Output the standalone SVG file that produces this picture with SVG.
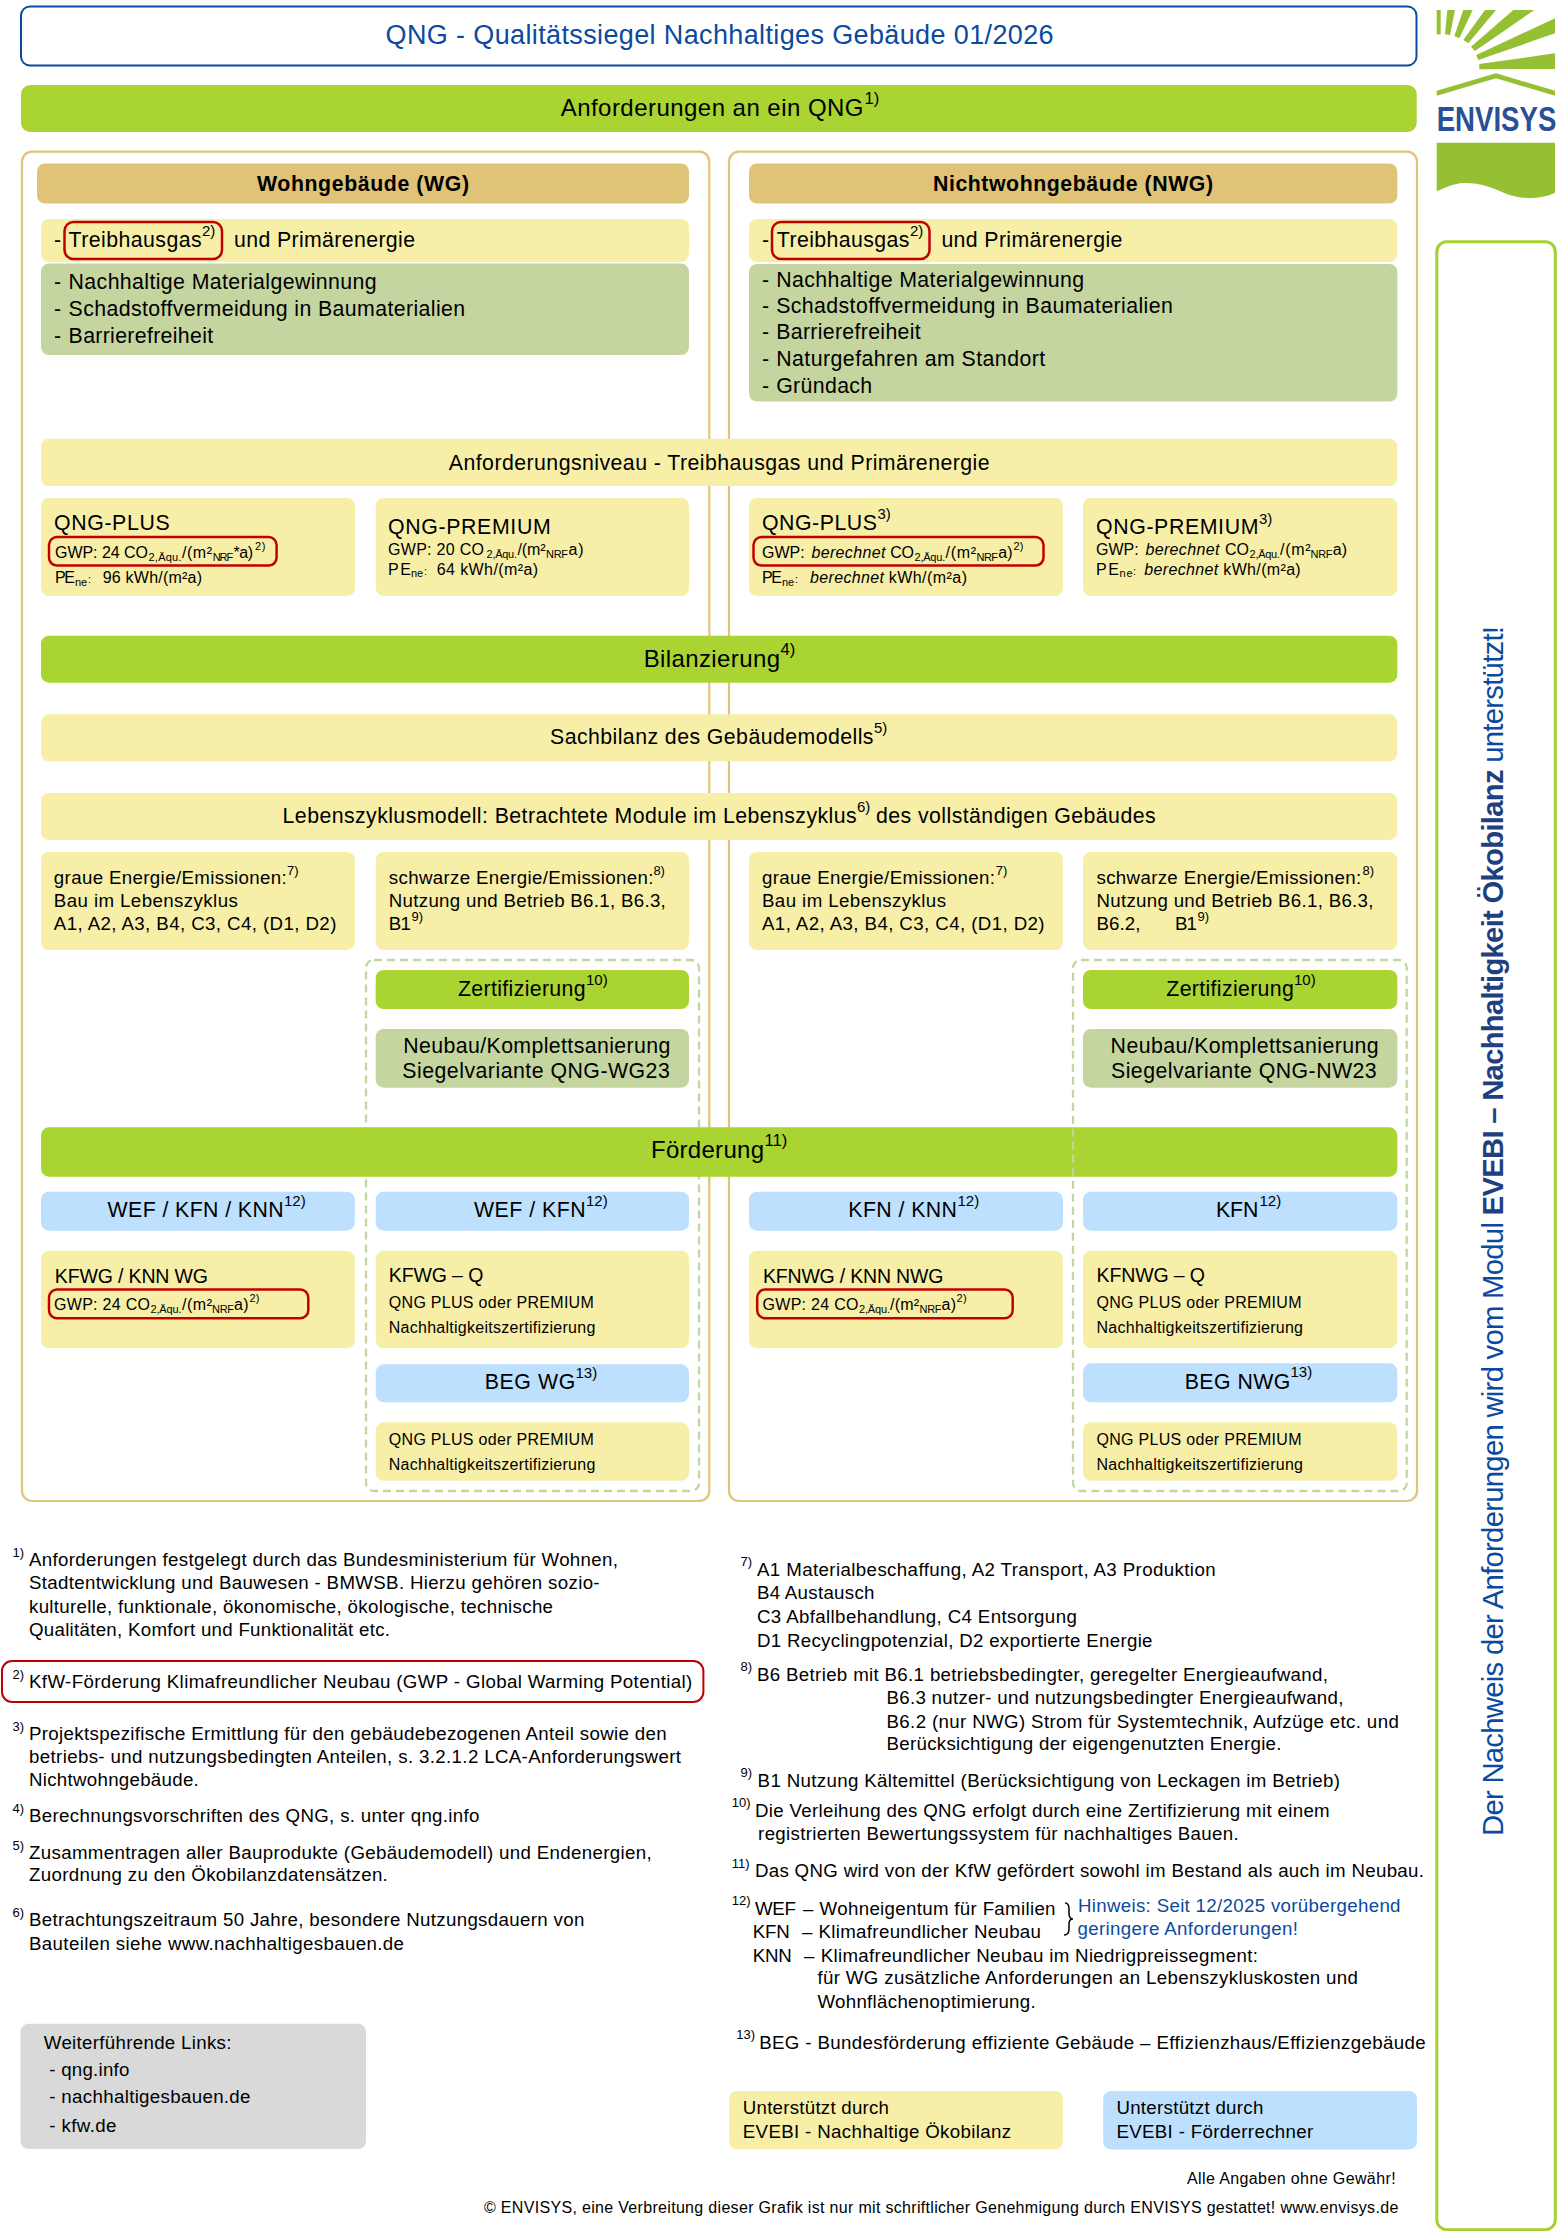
<svg xmlns="http://www.w3.org/2000/svg" width="1560" height="2231" viewBox="0 0 1560 2231">
<style>
text{font-family:"Liberation Sans",Arial,sans-serif;fill:#000}
.f27{font-size:27px}.f24{font-size:24px}.f21{font-size:21.3px}.f195{font-size:19.5px}.f19{font-size:18.7px}.f16{font-size:16px}
.b{font-weight:700}.i{font-style:italic}
.sb{font-size:16.6px}.su{font-size:15px}.sm{font-size:13px}.xs{font-size:11px}
.blue{fill:#0b4a9e}
.yel{fill:#f7efa8}.grn{fill:#a9d431}.tan{fill:#dfc377}.sag{fill:#c4d59f}.sky{fill:#bde0fe}.gry{fill:#d9d9d9}
.panel{fill:#fff;stroke:#e0c47c;stroke-width:2.2}
.red{fill:none;stroke:#c00000;stroke-width:2.5}
.dash{fill:none;stroke:#c4d59f;stroke-width:2.3;stroke-dasharray:8 5}
.lg{fill:#95c034}
</style>

<g id="logo">
<polygon class="lg" points="1436.7,10 1440.7,10 1440.7,34.3 1436.7,34.3"/>
<polygon class="lg" points="1447.3,10 1455,10 1450,35 1445,34.3"/>
<polygon class="lg" points="1463.3,10 1472.7,10 1459.3,38.3 1454.3,36"/>
<polygon class="lg" points="1485,10 1496,10 1468.3,43.3 1463.3,40"/>
<polygon class="lg" points="1513.3,10 1534.3,10 1475,51 1471,46.7"/>
<polygon class="lg" points="1555,18.3 1555,33.3 1478.3,60 1476.3,55"/>
<polygon class="lg" points="1555,53.3 1555,69 1479.3,69.3 1479.3,64"/>
<polygon class="lg" points="1436.7,90.7 1496,73.3 1555,90.7 1555,95.7 1496,78.3 1436.7,95.7"/>
<text transform="translate(1436.7 130.7) scale(0.8 1)" class="b" font-size="34.5" style="fill:#2a4f96">ENVISYS</text>
<path class="lg" d="M1436.7 142.7H1555V192.7C1540 199.7 1523 199.7 1506.7 194C1490 186.7 1476.7 181.7 1460 183.3C1450 185 1443.3 188.7 1436.7 191.3Z"/>
</g>

<g id="side-note">
<rect x="1436.8" y="241.7" width="118.5" height="1988" rx="10" fill="none" stroke="#a6d02f" stroke-width="3"/>
<text transform="translate(1502.5 1836) rotate(-90)" font-size="29.3" class="blue" textLength="1210"><tspan class="blue">Der Nachweis der Anforderungen wird vom Modul </tspan><tspan class="b" style="fill:#1f3f80">EVEBI – Nachhaltigkeit Ökobilanz</tspan><tspan class="blue"> unterstützt!</tspan></text>
</g>

<g id="title">
<rect x="21" y="6.5" width="1395.5" height="59" rx="9" fill="#fff" stroke="#0b4a9e" stroke-width="2"/>
<text x="385.6" y="43.5" class="f27 blue" textLength="668">QNG - Qualitätssiegel Nachhaltiges Gebäude 01/2026</text>
</g>

<g id="anforderungen-bar">
<rect x="21" y="85" width="1395.7" height="47" rx="9" class="grn"/>
<text x="560.7" y="116" class="f24" textLength="302.8">Anforderungen an ein QNG</text>
<text x="864.5" y="104" class="sb">1)</text>
</g>

<g id="panel-wg"><rect x="22" y="151.7" width="687.3" height="1349.3" rx="10" class="panel"/></g>
<g id="panel-nwg"><rect x="729" y="151.7" width="688" height="1349.3" rx="10" class="panel"/></g>

<g id="head-wg">
<rect x="37" y="163.5" width="652" height="40" rx="8" class="tan"/>
<text x="257" y="191" class="f21 b" textLength="212">Wohngebäude (WG)</text>
</g>
<g id="head-nwg">
<rect x="749" y="163.5" width="648.3" height="40" rx="8" class="tan"/>
<text x="933" y="191" class="f21 b" textLength="280">Nichtwohngebäude (NWG)</text>
</g>

<g id="thg-wg">
<rect x="41" y="219" width="648" height="43" rx="8" class="yel"/>
<text x="54" y="247" class="f21">-</text>
<rect x="64.5" y="222" width="157.5" height="37" rx="9" class="red"/>
<text x="68.6" y="247" class="f21" textLength="133">Treibhausgas</text>
<text x="202" y="236" class="su">2)</text>
<text x="234" y="247" class="f21" textLength="181">und Primärenergie</text>
</g>
<g id="thg-nwg">
<rect x="749" y="219" width="648.3" height="43" rx="8" class="yel"/>
<text x="762" y="247" class="f21">-</text>
<rect x="772" y="222" width="157.5" height="37" rx="9" class="red"/>
<text x="776.8" y="247" class="f21" textLength="132.7">Treibhausgas</text>
<text x="910" y="236" class="su">2)</text>
<text x="941.4" y="247" class="f21" textLength="181">und Primärenergie</text>
</g>

<g id="list-wg">
<rect x="41" y="263.6" width="648" height="91.4" rx="8" class="sag"/>
<text x="54" y="288.5" class="f21">-</text><text x="68.6" y="288.5" class="f21" textLength="308">Nachhaltige Materialgewinnung</text>
<text x="54" y="315.5" class="f21">-</text><text x="68.6" y="315.5" class="f21" textLength="396.6">Schadstoffvermeidung in Baumaterialien</text>
<text x="54" y="342.5" class="f21">-</text><text x="68.6" y="342.5" class="f21" textLength="144.5">Barrierefreiheit</text>
</g>
<g id="list-nwg">
<rect x="749" y="264" width="648.3" height="137.6" rx="8" class="sag"/>
<text x="762" y="286.5" class="f21">-</text><text x="776.2" y="286.5" class="f21" textLength="308">Nachhaltige Materialgewinnung</text>
<text x="762" y="313.4" class="f21">-</text><text x="776.2" y="313.4" class="f21" textLength="396.6">Schadstoffvermeidung in Baumaterialien</text>
<text x="762" y="339" class="f21">-</text><text x="776.2" y="339" class="f21" textLength="144.5">Barrierefreiheit</text>
<text x="762" y="366.4" class="f21">-</text><text x="776.2" y="366.4" class="f21" textLength="269">Naturgefahren am Standort</text>
<text x="762" y="393" class="f21">-</text><text x="776.2" y="393" class="f21" textLength="96">Gründach</text>
</g>

<g id="niveau">
<rect x="41" y="438.7" width="1356.3" height="47.3" rx="8" class="yel"/>
<text x="448.8" y="469.6" class="f21" textLength="540.8">Anforderungsniveau - Treibhausgas und Primärenergie</text>
</g>

<g id="plus-wg">
<rect x="41" y="498" width="314" height="98" rx="8" class="yel"/>
<text x="54" y="530.4" class="f21" textLength="115.6">QNG-PLUS</text>
<rect x="49" y="537" width="227.6" height="28.6" rx="8" class="red"/>
<text x="55" y="558.3" class="f16" textLength="93">GWP: 24 CO</text>
<text x="148.5" y="561" class="xs" textLength="33">2,Äqu.</text>
<text x="182" y="558.3" class="f16" textLength="30">/(m²</text>
<text x="212.7" y="561" class="xs" textLength="20.5">NRF</text>
<text x="233.5" y="558.3" class="f16" textLength="19.5">*a)</text>
<text x="255" y="550" class="xs" textLength="10.5">2)</text>
<text x="55" y="583.3" class="f16" textLength="20">PE</text>
<text x="75" y="585.5" class="xs" textLength="12">ne</text>
<text x="88" y="583.3" class="xs">:</text>
<text x="102.7" y="583.3" class="f16" textLength="99.3">96 kWh/(m²a)</text>
</g>
<g id="premium-wg">
<rect x="375.7" y="498" width="313.3" height="98" rx="8" class="yel"/>
<text x="388" y="534.4" class="f21" textLength="162.7">QNG-PREMIUM</text>
<text x="388" y="555.3" class="f16" textLength="96">GWP: 20 CO</text>
<text x="486.6" y="558" class="xs" textLength="30.4">2,Äqu.</text>
<text x="517.5" y="555.3" class="f16" textLength="28">/(m²</text>
<text x="546" y="558" class="xs" textLength="22">NRF</text>
<text x="568.5" y="555.3" class="f16" textLength="15">a)</text>
<text x="388" y="575" class="f16" textLength="23">PE</text>
<text x="411" y="577.2" class="xs" textLength="12">ne</text>
<text x="424" y="575" class="xs">:</text>
<text x="436.8" y="575" class="f16" textLength="101.2">64 kWh/(m²a)</text>
</g>
<g id="plus-nwg">
<rect x="749" y="498" width="314" height="98" rx="8" class="yel"/>
<text x="762" y="529.6" class="f21" textLength="115">QNG-PLUS</text>
<text x="877.5" y="519" class="su">3)</text>
<rect x="753.5" y="537" width="290" height="28.6" rx="8" class="red"/>
<text x="762" y="558.3" class="f16">GWP:</text>
<text x="811.4" y="558.3" class="f16 i" textLength="74">berechnet</text>
<text x="890.3" y="558.3" class="f16" textLength="23.7">CO</text>
<text x="914.5" y="561" class="xs" textLength="30.7">2,Äqu.</text>
<text x="945.5" y="558.3" class="f16" textLength="30.5">/(m²</text>
<text x="976.5" y="561" class="xs" textLength="21.5">NRF</text>
<text x="998.3" y="558.3" class="f16" textLength="14.4">a)</text>
<text x="1013.5" y="550" class="xs" textLength="10">2)</text>
<text x="762" y="583.3" class="f16" textLength="20">PE</text>
<text x="782" y="585.5" class="xs" textLength="12">ne</text>
<text x="795" y="583.3" class="xs">:</text>
<text x="810" y="583.3" class="f16 i" textLength="74">berechnet</text>
<text x="888.7" y="583.3" class="f16" textLength="78.3">kWh/(m²a)</text>
</g>
<g id="premium-nwg">
<rect x="1083" y="498" width="314.3" height="98" rx="8" class="yel"/>
<text x="1096" y="534.4" class="f21" textLength="162.4">QNG-PREMIUM</text>
<text x="1259" y="523.5" class="su">3)</text>
<text x="1096" y="555.3" class="f16">GWP:</text>
<text x="1145.4" y="555.3" class="f16 i" textLength="74">berechnet</text>
<text x="1225" y="555.3" class="f16" textLength="24">CO</text>
<text x="1249.6" y="558" class="xs" textLength="30.2">2,Äqu.</text>
<text x="1280" y="555.3" class="f16" textLength="30.5">/(m²</text>
<text x="1310.5" y="558" class="xs" textLength="22">NRF</text>
<text x="1332.8" y="555.3" class="f16" textLength="14.4">a)</text>
<text x="1096" y="575" class="f16" textLength="23">PE</text>
<text x="1119.6" y="577.2" class="xs" textLength="13">ne</text>
<text x="1133" y="575" class="xs">:</text>
<text x="1144.3" y="575" class="f16 i" textLength="74">berechnet</text>
<text x="1223.3" y="575" class="f16" textLength="77.4">kWh/(m²a)</text>
</g>

<g id="bilanzierung">
<rect x="41" y="635.7" width="1356.3" height="47" rx="8" class="grn"/>
<text x="643.7" y="666.7" class="f24" textLength="136.3">Bilanzierung</text>
<text x="780.5" y="654.5" class="sb">4)</text>
</g>
<g id="sachbilanz">
<rect x="41" y="714.3" width="1356.3" height="47" rx="8" class="yel"/>
<text x="550" y="744.3" class="f21" textLength="323.5">Sachbilanz des Gebäudemodells</text>
<text x="874" y="732.5" class="su">5)</text>
</g>
<g id="lebenszyklus">
<rect x="41" y="793" width="1356.3" height="47" rx="8" class="yel"/>
<text x="282.6" y="822.7" class="f21" textLength="574">Lebenszyklusmodell: Betrachtete Module im Lebenszyklus</text>
<text x="857" y="812" class="su">6)</text>
<text x="876" y="822.7" class="f21" textLength="279.6">des vollständigen Gebäudes</text>
</g>

<g id="graue-wg">
<rect x="41" y="852" width="313.8" height="98" rx="8" class="yel"/>
<text x="53.8" y="884" class="f19" textLength="233">graue Energie/Emissionen:</text>
<text x="287" y="875" class="sm">7)</text>
<text x="53.8" y="907.3" class="f19" textLength="184">Bau im Lebenszyklus</text>
<text x="53.8" y="930" class="f19" textLength="282.6">A1, A2, A3, B4, C3, C4, (D1, D2)</text>
</g>
<g id="schwarz-wg">
<rect x="375.7" y="852" width="313.3" height="98" rx="8" class="yel"/>
<text x="388.8" y="884" class="f19" textLength="264.6">schwarze Energie/Emissionen:</text>
<text x="653.4" y="875" class="sm">8)</text>
<text x="388.8" y="907.3" class="f19" textLength="277">Nutzung und Betrieb B6.1, B6.3,</text>
<text x="388.8" y="930" class="f19" textLength="22">B1</text>
<text x="411.5" y="921" class="sm">9)</text>
</g>
<g id="graue-nwg">
<rect x="749" y="852" width="314" height="98" rx="8" class="yel"/>
<text x="762" y="884" class="f19" textLength="233">graue Energie/Emissionen:</text>
<text x="995.7" y="875" class="sm">7)</text>
<text x="762" y="907.3" class="f19" textLength="184">Bau im Lebenszyklus</text>
<text x="762" y="930" class="f19" textLength="282.6">A1, A2, A3, B4, C3, C4, (D1, D2)</text>
</g>
<g id="schwarz-nwg">
<rect x="1083" y="852" width="314.3" height="98" rx="8" class="yel"/>
<text x="1096.5" y="884" class="f19" textLength="264.6">schwarze Energie/Emissionen:</text>
<text x="1362.6" y="875" class="sm">8)</text>
<text x="1096.5" y="907.3" class="f19" textLength="277">Nutzung und Betrieb B6.1, B6.3,</text>
<text x="1096.5" y="930" class="f19" textLength="44">B6.2,</text>
<text x="1175" y="930" class="f19" textLength="22">B1</text>
<text x="1197.5" y="921" class="sm">9)</text>
</g>

<g id="zert-frame-wg"><rect x="366" y="960" width="333" height="531" rx="8" class="dash"/></g>

<g id="zert-wg">
<rect x="375.7" y="970" width="313.3" height="39" rx="8" class="grn"/>
<text x="458" y="995.7" class="f21" textLength="127.6">Zertifizierung</text>
<text x="586" y="984.5" class="su">10)</text>
</g>
<g id="siegel-wg">
<rect x="375.7" y="1029" width="313.3" height="58.7" rx="8" class="sag"/>
<text x="403.3" y="1052.7" class="f21" textLength="267">Neubau/Komplettsanierung</text>
<text x="402.3" y="1077.7" class="f21" textLength="267.5">Siegelvariante QNG-WG23</text>
</g>
<g id="zert-nwg">
<rect x="1083" y="970" width="314.3" height="39" rx="8" class="grn"/>
<text x="1166.3" y="995.7" class="f21" textLength="127.5">Zertifizierung</text>
<text x="1294" y="984.5" class="su">10)</text>
</g>
<g id="siegel-nwg">
<rect x="1083" y="1029" width="314.3" height="58.7" rx="8" class="sag"/>
<text x="1110.6" y="1052.7" class="f21" textLength="268">Neubau/Komplettsanierung</text>
<text x="1111" y="1077.7" class="f21" textLength="265.7">Siegelvariante QNG-NW23</text>
</g>

<g id="foerderung">
<rect x="41" y="1127.3" width="1356.3" height="49.4" rx="8" class="grn"/>
<text x="651" y="1158.3" class="f24" textLength="113">Förderung</text>
<text x="764.5" y="1146" class="sb">11)</text>
</g>
<g id="zert-frame-nwg"><rect x="1073" y="960" width="333.7" height="531" rx="8" class="dash"/></g>

<g id="prog-wef-kfn-knn">
<rect x="41" y="1191.7" width="313.8" height="39" rx="8" class="sky"/>
<text x="107.6" y="1217.3" class="f21" textLength="176">WEF / KFN / KNN</text>
<text x="284" y="1205.5" class="su">12)</text>
</g>
<g id="prog-wef-kfn">
<rect x="375.7" y="1191.7" width="313.3" height="39" rx="8" class="sky"/>
<text x="474" y="1217.3" class="f21" textLength="111.6">WEF / KFN</text>
<text x="586" y="1205.5" class="su">12)</text>
</g>
<g id="prog-kfn-knn">
<rect x="749" y="1191.7" width="314" height="39" rx="8" class="sky"/>
<text x="848.3" y="1217.3" class="f21" textLength="108.7">KFN / KNN</text>
<text x="957.5" y="1205.5" class="su">12)</text>
</g>
<g id="prog-kfn">
<rect x="1083" y="1191.7" width="314.3" height="39" rx="8" class="sky"/>
<text x="1216" y="1217.3" class="f21" textLength="42.4">KFN</text>
<text x="1259.5" y="1205.5" class="su">12)</text>
</g>

<g id="kfwg">
<rect x="41" y="1250.7" width="313.8" height="97.6" rx="8" class="yel"/>
<text x="54.8" y="1282.7" class="f195" textLength="153.2">KFWG / KNN WG</text>
<rect x="49" y="1289.5" width="259.3" height="28.8" rx="8" class="red"/>
<text x="54" y="1310.3" class="f16" textLength="96">GWP: 24 CO</text>
<text x="150.5" y="1313" class="xs" textLength="31">2,Äqu.</text>
<text x="182" y="1310.3" class="f16" textLength="30">/(m²</text>
<text x="212" y="1313" class="xs" textLength="22">NRF</text>
<text x="234" y="1310.3" class="f16" textLength="14.7">a)</text>
<text x="249.5" y="1302" class="xs" textLength="10">2)</text>
</g>
<g id="kfwg-q">
<rect x="375.7" y="1250.7" width="313.3" height="97.6" rx="8" class="yel"/>
<text x="388.8" y="1281.7" class="f195" textLength="94.5">KFWG – Q</text>
<text x="388.8" y="1308.3" class="f16" textLength="205">QNG PLUS oder PREMIUM</text>
<text x="388.8" y="1333.3" class="f16" textLength="206.5">Nachhaltigkeitszertifizierung</text>
</g>
<g id="kfnwg">
<rect x="749" y="1250.7" width="314" height="97.6" rx="8" class="yel"/>
<text x="763" y="1282.7" class="f195" textLength="180.3">KFNWG / KNN NWG</text>
<rect x="757.2" y="1289.5" width="255.5" height="28.8" rx="8" class="red"/>
<text x="762.5" y="1310.3" class="f16" textLength="96">GWP: 24 CO</text>
<text x="859" y="1313" class="xs" textLength="31">2,Äqu.</text>
<text x="890" y="1310.3" class="f16" textLength="29">/(m²</text>
<text x="919.5" y="1313" class="xs" textLength="22">NRF</text>
<text x="941.4" y="1310.3" class="f16" textLength="14.6">a)</text>
<text x="956.6" y="1302" class="xs" textLength="10">2)</text>
</g>
<g id="kfnwg-q">
<rect x="1083" y="1250.7" width="314.3" height="97.6" rx="8" class="yel"/>
<text x="1096.5" y="1281.7" class="f195" textLength="108.5">KFNWG – Q</text>
<text x="1096.5" y="1308.3" class="f16" textLength="205">QNG PLUS oder PREMIUM</text>
<text x="1096.5" y="1333.3" class="f16" textLength="206.5">Nachhaltigkeitszertifizierung</text>
</g>

<g id="beg-wg">
<rect x="375.7" y="1364.3" width="313.3" height="38" rx="8" class="sky"/>
<text x="484.7" y="1389.3" class="f21" textLength="90.7">BEG WG</text>
<text x="575.5" y="1377.5" class="su">13)</text>
</g>
<g id="beg-wg-text">
<rect x="375.7" y="1422.3" width="313.3" height="58.5" rx="8" class="yel"/>
<text x="388.8" y="1445" class="f16" textLength="205">QNG PLUS oder PREMIUM</text>
<text x="388.8" y="1470" class="f16" textLength="206.5">Nachhaltigkeitszertifizierung</text>
</g>
<g id="beg-nwg">
<rect x="1083" y="1363.3" width="314.3" height="39" rx="8" class="sky"/>
<text x="1184.7" y="1389.3" class="f21" textLength="105.7">BEG NWG</text>
<text x="1290.5" y="1377" class="su">13)</text>
</g>
<g id="beg-nwg-text">
<rect x="1083" y="1422.3" width="314.3" height="58.5" rx="8" class="yel"/>
<text x="1096.5" y="1445" class="f16" textLength="205">QNG PLUS oder PREMIUM</text>
<text x="1096.5" y="1470" class="f16" textLength="206.5">Nachhaltigkeitszertifizierung</text>
</g>

<g id="notes-left">
<text x="12.6" y="1557" class="sm">1)</text>
<text x="29" y="1566.3" class="f19" textLength="589">Anforderungen festgelegt durch das Bundesministerium für Wohnen,</text>
<text x="29" y="1589.4" class="f19" textLength="570.6">Stadtentwicklung und Bauwesen - BMWSB. Hierzu gehören sozio-</text>
<text x="29" y="1613" class="f19" textLength="524">kulturelle, funktionale, ökonomische, ökologische, technische</text>
<text x="29" y="1636" class="f19" textLength="361">Qualitäten, Komfort und Funktionalität etc.</text>
<rect x="2" y="1661" width="701.4" height="41" rx="10" fill="none" stroke="#c00000" stroke-width="2"/>
<text x="12.6" y="1678.7" class="sm">2)</text>
<text x="29" y="1688.3" class="f19" textLength="663.3">KfW-Förderung Klimafreundlicher Neubau (GWP - Global Warming Potential)</text>
<text x="12.6" y="1731" class="sm">3)</text>
<text x="29" y="1739.5" class="f19" textLength="637.7">Projektspezifische Ermittlung für den gebäudebezogenen Anteil sowie den</text>
<text x="29" y="1762.6" class="f19" textLength="652">betriebs- und nutzungsbedingten Anteilen, s. 3.2.1.2 LCA-Anforderungswert</text>
<text x="29" y="1786.2" class="f19" textLength="169.8">Nichtwohngebäude.</text>
<text x="12.6" y="1812.5" class="sm">4)</text>
<text x="29" y="1821.6" class="f19" textLength="450.5">Berechnungsvorschriften des QNG, s. unter qng.info</text>
<text x="12.6" y="1849.7" class="sm">5)</text>
<text x="29" y="1858.8" class="f19" textLength="622.8">Zusammentragen aller Bauprodukte (Gebäudemodell) und Endenergien,</text>
<text x="29" y="1881.4" class="f19" textLength="358.8">Zuordnung zu den Ökobilanzdatensätzen.</text>
<text x="12.6" y="1916.8" class="sm">6)</text>
<text x="29" y="1926.3" class="f19" textLength="555.3">Betrachtungszeitraum 50 Jahre, besondere Nutzungsdauern von</text>
<text x="29" y="1949.5" class="f19" textLength="375">Bauteilen siehe www.nachhaltigesbauen.de</text>
</g>

<g id="links">
<rect x="20.5" y="2023.8" width="345.5" height="125.2" rx="8" class="gry"/>
<text x="43.8" y="2049" class="f19" textLength="187.6">Weiterführende Links:</text>
<text x="49.3" y="2075.6" class="f19" textLength="80.1">- qng.info</text>
<text x="49.3" y="2102.8" class="f19" textLength="201.2">- nachhaltigesbauen.de</text>
<text x="49.3" y="2132.2" class="f19" textLength="67.1">- kfw.de</text>
</g>

<g id="notes-right">
<text x="740.6" y="1566" class="sm">7)</text>
<text x="757" y="1576.2" class="f19" textLength="458.6">A1 Materialbeschaffung, A2 Transport, A3 Produktion</text>
<text x="757" y="1599.4" class="f19" textLength="117.4">B4 Austausch</text>
<text x="757" y="1622.5" class="f19" textLength="319.8">C3 Abfallbehandlung, C4 Entsorgung</text>
<text x="757" y="1646.5" class="f19" textLength="395.5">D1 Recyclingpotenzial, D2 exportierte Energie</text>
<text x="740.6" y="1670.6" class="sm">8)</text>
<text x="757" y="1680.5" class="f19" textLength="571">B6 Betrieb mit B6.1 betriebsbedingter, geregelter Energieaufwand,</text>
<text x="886.5" y="1703.7" class="f19" textLength="456.9">B6.3 nutzer- und nutzungsbedingter Energieaufwand,</text>
<text x="886.5" y="1727.7" class="f19" textLength="512.3">B6.2 (nur NWG) Strom für Systemtechnik, Aufzüge etc. und</text>
<text x="886.5" y="1750.4" class="f19" textLength="395">Berücksichtigung der eigengenutzten Energie.</text>
<text x="740.6" y="1777" class="sm">9)</text>
<text x="757.6" y="1786.7" class="f19" textLength="582.4">B1 Nutzung Kältemittel (Berücksichtigung von Leckagen im Betrieb)</text>
<text x="731.8" y="1806.6" class="sm">10)</text>
<text x="754.9" y="1816.6" class="f19" textLength="574.8">Die Verleihung des QNG erfolgt durch eine Zertifizierung mit einem</text>
<text x="758.1" y="1839.7" class="f19" textLength="480.6">registrierten Bewertungssystem für nachhaltiges Bauen.</text>
<text x="731.8" y="1867.8" class="sm">11)</text>
<text x="754.9" y="1877.4" class="f19" textLength="669.1">Das QNG wird von der KfW gefördert sowohl im Bestand als auch im Neubau.</text>
<text x="731.8" y="1904.6" class="sm">12)</text>
<text x="754.9" y="1914.5" class="f19" textLength="41">WEF</text>
<text x="803" y="1914.5" class="f19">–</text>
<text x="819.6" y="1914.5" class="f19" textLength="235.9">Wohneigentum für Familien</text>
<text x="752.7" y="1938" class="f19" textLength="37">KFN</text>
<text x="802" y="1938" class="f19">–</text>
<text x="818.5" y="1938" class="f19" textLength="222.5">Klimafreundlicher Neubau</text>
<text x="752.7" y="1961.7" class="f19" textLength="39">KNN</text>
<text x="804" y="1961.7" class="f19">–</text>
<text x="820.7" y="1961.7" class="f19" textLength="437.2">Klimafreundlicher Neubau im Niedrigpreissegment:</text>
<text x="817.4" y="1984.4" class="f19" textLength="540.6">für WG zusätzliche Anforderungen an Lebenszykluskosten und</text>
<text x="817.4" y="2008.4" class="f19" textLength="218.3">Wohnflächenoptimierung.</text>
<path d="M1065 1903Q1069 1903 1069 1909V1913Q1069 1919 1073 1919Q1069 1919 1069 1924V1929Q1069 1935 1064 1935" fill="none" stroke="#000" stroke-width="1.5"/>
<text x="1078" y="1912.3" class="f19 blue" textLength="322.5">Hinweis: Seit 12/2025 vorübergehend</text>
<text x="1077.4" y="1935.4" class="f19 blue" textLength="220.6">geringere Anforderungen!</text>
<text x="736.2" y="2039.3" class="sm">13)</text>
<text x="759.2" y="2049.2" class="f19" textLength="666.5">BEG - Bundesförderung effiziente Gebäude – Effizienzhaus/Effizienzgebäude</text>
</g>

<g id="support-oekobilanz">
<rect x="729" y="2091" width="334" height="58.5" rx="8" class="yel"/>
<text x="742.8" y="2114" class="f19" textLength="146.2">Unterstützt durch</text>
<text x="742.8" y="2138" class="f19" textLength="268.2">EVEBI - Nachhaltige Ökobilanz</text>
</g>
<g id="support-foerderrechner">
<rect x="1103.2" y="2091" width="313.8" height="58.5" rx="8" class="sky"/>
<text x="1116.4" y="2114" class="f19" textLength="146.9">Unterstützt durch</text>
<text x="1116.4" y="2138" class="f19" textLength="196.9">EVEBI - Förderrechner</text>
</g>

<g id="footer">
<text x="1187" y="2183.5" class="f16" textLength="208.6">Alle Angaben ohne Gewähr!</text>
<text x="484" y="2213" class="f16" textLength="914.3">© ENVISYS, eine Verbreitung dieser Grafik ist nur mit schriftlicher Genehmigung durch ENVISYS gestattet! www.envisys.de</text>
</g>
</svg>
